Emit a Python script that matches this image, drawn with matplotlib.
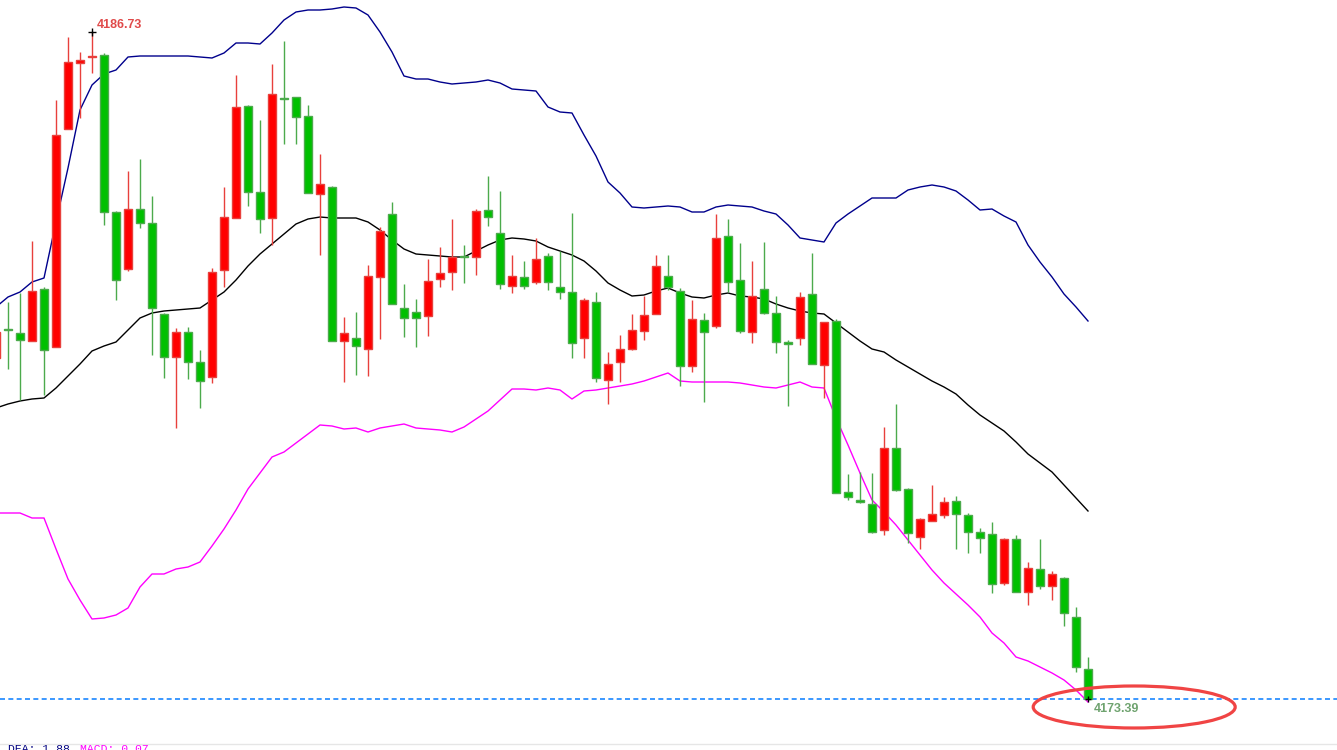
import numpy as np
import matplotlib.pyplot as plt
from matplotlib.patches import Ellipse

# K线数据 (开, 高, 低, 收)
opens = [4180.21, 4180.79, 4180.71, 4180.55, 4181.59, 4180.43, 4184.79, 4186.11, 4186.22, 4186.27,
         4183.13, 4181.99, 4183.19, 4182.91, 4181.09, 4180.23, 4180.73, 4180.13, 4179.83, 4181.97,
         4183.01, 4185.25, 4183.53, 4183.01, 4185.41, 4185.43, 4185.05, 4183.49, 4183.63, 4180.55,
         4180.61, 4180.39, 4181.83, 4183.09, 4181.21, 4181.13, 4181.05, 4181.79, 4181.93, 4182.25,
         4182.23, 4183.17, 4182.71, 4181.65, 4181.83, 4181.73, 4182.25, 4181.63, 4181.53, 4180.61,
         4181.33, 4179.77, 4180.13, 4180.39, 4180.75, 4181.09, 4181.85, 4181.55, 4180.05, 4180.97,
         4180.85, 4182.65, 4181.77, 4180.73, 4181.59, 4181.11, 4180.53, 4180.61, 4181.49, 4180.07,
         4180.95, 4177.53, 4177.37, 4177.29, 4176.77, 4178.41, 4177.59, 4176.63, 4176.95, 4177.07,
         4177.35, 4177.07, 4176.73, 4176.69, 4175.71, 4176.59, 4175.53, 4175.99, 4175.65, 4175.81,
         4175.03, 4173.99]
highs = [4180.77, 4181.33, 4181.51, 4182.55, 4181.63, 4185.37, 4186.63, 4186.33, 4186.73, 4186.31,
         4183.15, 4183.95, 4184.19, 4183.45, 4181.11, 4180.81, 4180.83, 4180.37, 4182.01, 4183.63,
         4185.87, 4185.27, 4184.97, 4186.09, 4186.55, 4185.43, 4185.27, 4184.29, 4183.65, 4181.03,
         4181.13, 4182.07, 4182.83, 4183.33, 4181.69, 4181.39, 4182.19, 4182.43, 4182.99, 4182.47,
         4183.19, 4183.85, 4183.55, 4182.27, 4182.15, 4182.61, 4182.31, 4182.35, 4183.11, 4181.41,
         4181.53, 4180.33, 4180.67, 4181.09, 4181.45, 4182.27, 4182.27, 4181.61, 4181.37, 4181.11,
         4183.09, 4182.99, 4182.51, 4182.15, 4182.53, 4181.45, 4180.57, 4181.53, 4182.31, 4180.93,
         4180.99, 4177.89, 4177.93, 4177.91, 4178.83, 4179.29, 4177.61, 4177.01, 4177.67, 4177.43,
         4177.45, 4177.11, 4176.81, 4176.93, 4176.61, 4176.67, 4176.13, 4176.59, 4175.95, 4175.83,
         4175.23, 4174.23]
lows = [4180.13, 4179.99, 4179.37, 4180.55, 4179.47, 4180.43, 4184.79, 4185.01, 4185.91, 4182.87,
        4181.37, 4181.95, 4182.81, 4180.27, 4179.81, 4178.81, 4179.79, 4179.21, 4179.71, 4181.63,
        4183.01, 4183.25, 4182.71, 4182.47, 4184.49, 4184.49, 4183.51, 4182.27, 4180.55, 4179.73,
        4179.87, 4179.85, 4180.59, 4181.29, 4180.63, 4180.43, 4180.65, 4181.63, 4181.57, 4181.71,
        4181.87, 4182.85, 4181.59, 4181.51, 4181.59, 4181.69, 4181.57, 4181.39, 4180.21, 4180.21,
        4179.73, 4179.29, 4179.73, 4180.37, 4180.57, 4181.09, 4181.57, 4179.65, 4179.93, 4179.33,
        4180.81, 4181.53, 4180.71, 4180.51, 4181.09, 4180.31, 4179.25, 4180.47, 4180.09, 4179.41,
        4177.51, 4177.37, 4177.31, 4176.71, 4176.67, 4177.55, 4176.51, 4176.39, 4176.95, 4177.01,
        4176.39, 4176.31, 4176.31, 4175.51, 4175.67, 4175.53, 4175.27, 4175.59, 4175.37, 4174.85,
        4173.93, 4173.39]
closes = [4180.73, 4180.77, 4180.57, 4181.55, 4180.37, 4184.67, 4186.13, 4186.17, 4186.24, 4183.13,
          4181.77, 4183.19, 4182.91, 4181.21, 4180.23, 4180.73, 4180.13, 4179.75, 4181.93, 4183.03,
          4185.23, 4183.53, 4182.99, 4185.49, 4185.39, 4185.03, 4183.51, 4183.69, 4180.55, 4180.71,
          4180.45, 4181.85, 4182.75, 4181.29, 4181.01, 4181.01, 4181.75, 4181.91, 4182.23, 4182.22,
          4183.15, 4183.03, 4181.69, 4181.85, 4181.65, 4182.19, 4181.73, 4181.53, 4180.51, 4181.37,
          4179.81, 4180.09, 4180.39, 4180.77, 4181.07, 4182.05, 4181.63, 4180.05, 4180.99, 4180.73,
          4182.61, 4181.73, 4180.75, 4181.45, 4181.11, 4180.53, 4180.50, 4181.43, 4180.09, 4180.93,
          4177.51, 4177.43, 4177.34, 4176.73, 4178.41, 4177.57, 4176.71, 4176.99, 4177.09, 4177.33,
          4177.09, 4176.73, 4176.61, 4175.69, 4176.59, 4175.53, 4176.01, 4175.65, 4175.89, 4175.11,
          4174.03, 4173.39]

# 布林带 上轨 / 中轨 / 下轨
boll_up = [4181.23, 4181.43, 4181.53, 4181.73, 4181.81, 4182.93, 4184.01, 4185.17, 4185.67, 4185.89,
           4185.97, 4186.23, 4186.25, 4186.25, 4186.25, 4186.25, 4186.25, 4186.23, 4186.21, 4186.31,
           4186.51, 4186.51, 4186.49, 4186.71, 4186.97, 4187.13, 4187.17, 4187.17, 4187.19, 4187.23,
           4187.21, 4187.07, 4186.73, 4186.33, 4185.85, 4185.79, 4185.79, 4185.73, 4185.69, 4185.71,
           4185.73, 4185.77, 4185.71, 4185.59, 4185.57, 4185.55, 4185.23, 4185.13, 4185.11, 4184.67,
           4184.25, 4183.73, 4183.51, 4183.23, 4183.21, 4183.23, 4183.25, 4183.23, 4183.13, 4183.13,
           4183.23, 4183.27, 4183.25, 4183.23, 4183.15, 4183.09, 4182.87, 4182.61, 4182.57, 4182.53,
           4182.91, 4183.09, 4183.25, 4183.41, 4183.41, 4183.41, 4183.57, 4183.63, 4183.67, 4183.63,
           4183.55, 4183.37, 4183.17, 4183.19, 4183.05, 4182.93, 4182.47, 4182.13, 4181.83, 4181.49,
           4181.23, 4180.95]
boll_mid = [4179.21, 4179.29, 4179.35, 4179.39, 4179.41, 4179.61, 4179.85, 4180.09, 4180.35, 4180.45,
            4180.53, 4180.77, 4181.01, 4181.11, 4181.15, 4181.17, 4181.19, 4181.21, 4181.37, 4181.53,
            4181.77, 4182.05, 4182.29, 4182.49, 4182.69, 4182.89, 4182.99, 4183.03, 4183.01, 4183.01,
            4183.01, 4182.93, 4182.77, 4182.57, 4182.39, 4182.29, 4182.27, 4182.25, 4182.23, 4182.23,
            4182.35, 4182.47, 4182.57, 4182.61, 4182.59, 4182.55, 4182.43, 4182.35, 4182.27, 4182.15,
            4181.95, 4181.71, 4181.57, 4181.45, 4181.47, 4181.55, 4181.61, 4181.51, 4181.43, 4181.41,
            4181.47, 4181.51, 4181.45, 4181.43, 4181.39, 4181.29, 4181.21, 4181.15, 4181.11, 4181.09,
            4180.91, 4180.73, 4180.55, 4180.39, 4180.33, 4180.17, 4180.03, 4179.89, 4179.75, 4179.63,
            4179.49, 4179.27, 4179.07, 4178.91, 4178.75, 4178.53, 4178.29, 4178.11, 4177.93, 4177.67,
            4177.41, 4177.15]
boll_dn = [4177.11, 4177.11, 4177.11, 4177.01, 4177.01, 4176.39, 4175.79, 4175.37, 4174.99, 4175.01,
           4175.07, 4175.21, 4175.63, 4175.89, 4175.89, 4175.99, 4176.03, 4176.13, 4176.45, 4176.79,
           4177.17, 4177.59, 4177.91, 4178.23, 4178.33, 4178.51, 4178.69, 4178.87, 4178.85, 4178.79,
           4178.81, 4178.73, 4178.81, 4178.85, 4178.89, 4178.81, 4178.79, 4178.77, 4178.73, 4178.83,
           4178.99, 4179.15, 4179.37, 4179.59, 4179.59, 4179.57, 4179.61, 4179.57, 4179.39, 4179.55,
           4179.57, 4179.61, 4179.65, 4179.69, 4179.75, 4179.83, 4179.91, 4179.75, 4179.73, 4179.73,
           4179.73, 4179.73, 4179.71, 4179.67, 4179.63, 4179.61, 4179.67, 4179.73, 4179.63, 4179.61,
           4179.01, 4178.47, 4177.91, 4177.37, 4177.13, 4176.87, 4176.57, 4176.27, 4175.97, 4175.71,
           4175.49, 4175.27, 4175.03, 4174.71, 4174.51, 4174.23, 4174.15, 4174.03, 4173.91, 4173.77,
           4173.57, 4173.33]

high_label = "4186.73"
low_label = "4173.39"
dea_text = "DEA: 1.88"
macd_text = "MACD: 0.07"

W, H = 1337, 750
fig = plt.figure(figsize=(W / 100, H / 100), dpi=100)
fig.patch.set_facecolor("white")

# 主图区域: 像素 0..743
ax = fig.add_axes([0, (H - 743) / H, 1, 743 / H])
ax.set_facecolor("white")
for s in ax.spines.values():
    s.set_visible(False)
ax.set_xticks([])
ax.set_yticks([])

n = len(opens)
x = np.arange(n)
o = np.array(opens)
hi = np.array(highs)
lo = np.array(lows)
c = np.array(closes)

# 价格/像素: 50 px 每 1 点
ytop = 4187.37
ax.set_ylim(ytop - 743 / 50, ytop)
ax.set_xlim(4 / 12, (W + 4) / 12)

# 布林带
ax.plot(x, boll_up, color="#00008c", lw=1.0, zorder=1)
ax.plot(x, boll_mid, color="black", lw=1.0, zorder=1)
ax.plot(x, boll_dn, color="#ff00ff", lw=1.0, zorder=1)

up = c > o
wick_col = np.where(up, "#e8403c", "#4caa4c")
ax.vlines(x, lo, hi, colors=wick_col, lw=1.0, zorder=2)

body_bot = np.minimum(o, c)
body_h = np.maximum(np.abs(c - o), 0.02)
ax.bar(x[up], body_h[up], bottom=body_bot[up], width=0.6,
       color="#ff0000", edgecolor="#e8403c", linewidth=1.0, zorder=3)
ax.bar(x[~up], body_h[~up], bottom=body_bot[~up], width=0.6,
       color="#00c000", edgecolor="#4caa4c", linewidth=1.0, zorder=3)

# 最高/最低标记
imax = int(np.argmax(hi))
imin = int(np.argmin(lo))
ax.plot(imax, hi[imax], marker="+", color="black", ms=6, mew=1, zorder=4)
ax.plot(imin, lo[imin], marker="+", color="black", ms=5, mew=1, zorder=4)
ax.text(imax + 0.38, hi[imax] + 0.03, high_label, color="#e04a4a", fontsize=9,
        fontweight="bold", family="Liberation Sans", va="bottom", ha="left")
ax.text(imin + 0.45, lo[imin] - 0.08, low_label, color="#6fa36f", fontsize=9,
        fontweight="bold", family="Liberation Sans", va="top", ha="left")

# 最新价虚线
ax.axhline(lo[imin], color="#1a86ff", lw=1.2, ls=(0, (3, 2)), zorder=0)

# 红圈
ax.add_patch(Ellipse((imin + 3.85, lo[imin] - 0.16), 202 / 12, 42 / 50,
                     fill=False, edgecolor="#f04444", lw=2.3, zorder=5))

# 分隔线与副图文字
fig.add_artist(plt.Line2D([0, 1], [(H - 743.5) / H] * 2, color="#e6e6e6", lw=1.0))
fig.text(8 / W, (H - 744) / H, dea_text, color="#000080", fontsize=8.2,
         family="Liberation Mono", va="top", ha="left")
fig.text(80 / W, (H - 744) / H, macd_text, color="#ff00ff", fontsize=8.2,
         family="Liberation Mono", va="top", ha="left")

fig.savefig("out.png", dpi=100, facecolor="white")
